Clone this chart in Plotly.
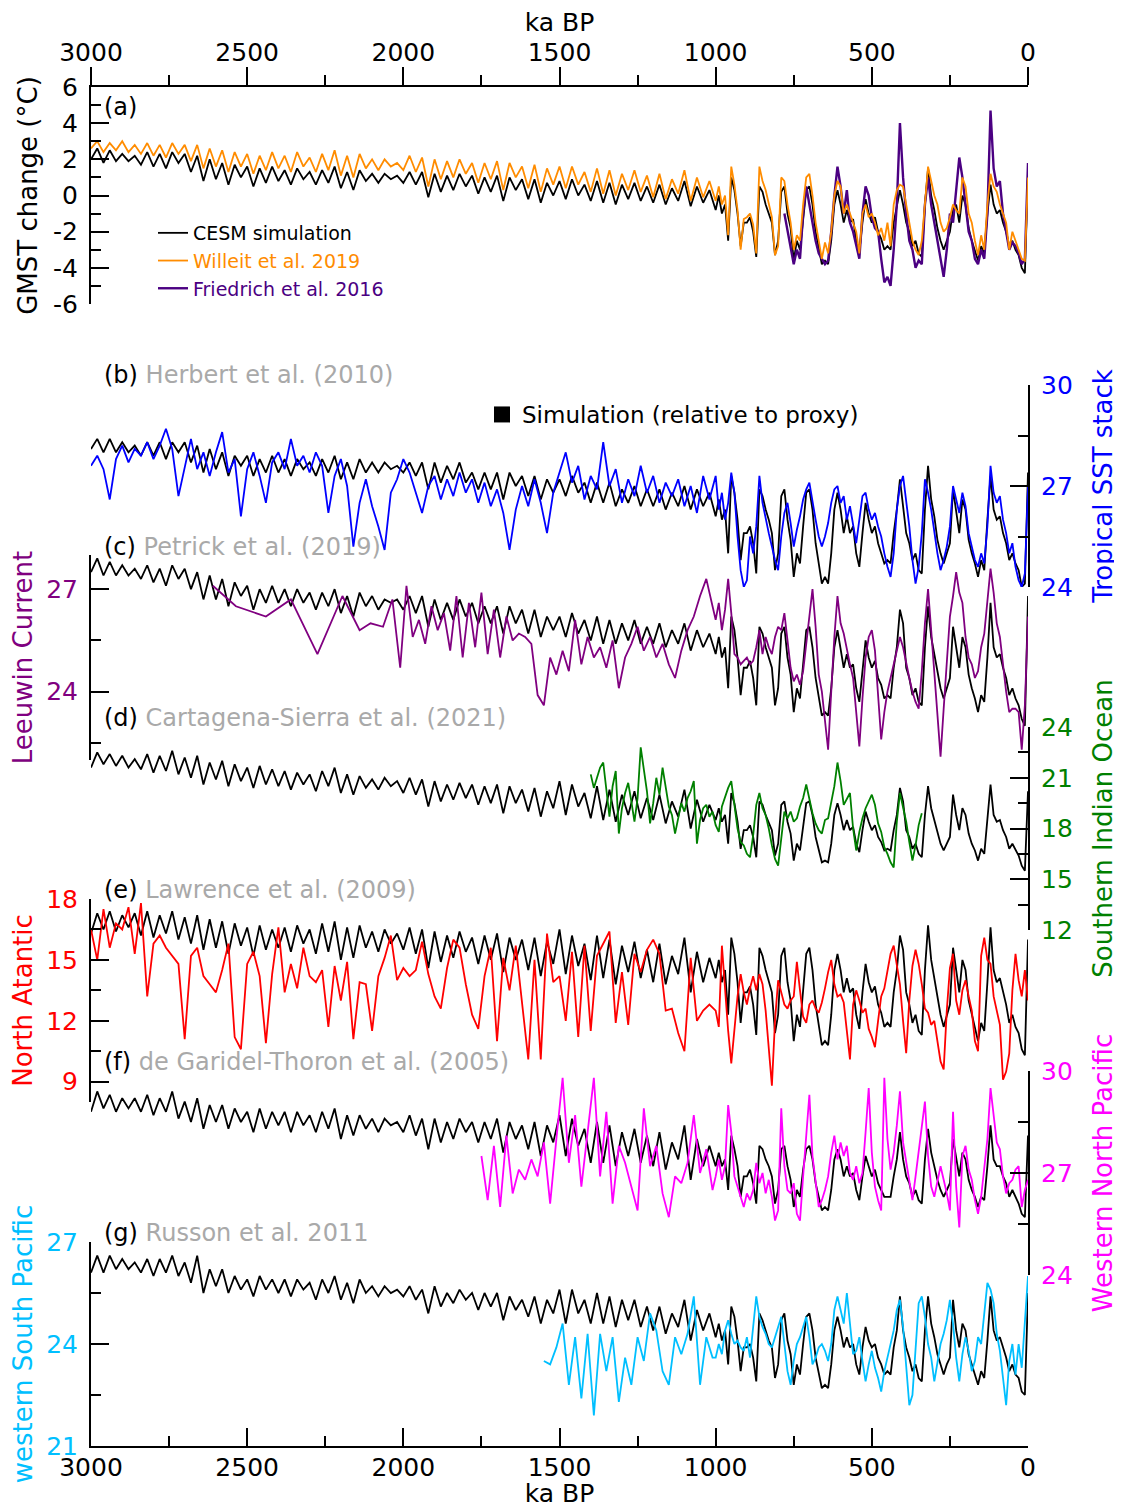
import plotly.graph_objects as go

FONT = "DejaVu Sans"

# ==========================
# Age grids (ka BP)
# ==========================
age_old = list(range(3000, 1000, -20))
age_new = list(range(1000, -1, -10))
age_full = age_old + age_new

# ==========================
# (a) GMST change
# ==========================
gmst_ticks = [-6, -4, -2, 0, 2, 4, 6]
gmst_ticktext = ["-6", "-4", "-2", "0", "2", "4", "6"]
gmst_cesm = [
    2.0, 2.6, 1.8, 2.5, 1.9, 2.3, 1.9, 2.2, 1.7, 2.4,
    1.6, 2.3, 1.5, 2.4, 1.8, 2.3, 1.3, 2.2, 0.8, 2.0,
    0.9, 1.8, 0.6, 1.7, 1.0, 1.6, 0.5, 1.5, 0.7, 1.6,
    0.8, 1.4, 0.6, 1.5, 0.9, 1.3, 0.6, 1.4, 0.7, 1.6,
    0.4, 1.3, 0.3, 1.4, 0.8, 1.2, 0.7, 1.2, 0.9, 1.1,
    0.7, 1.3, 0.6, 1.3, -0.1, 1.2, 0.2, 1.1, 0.3, 1.2,
    0.5, 1.1, 0.1, 1.0, 0.2, 1.1, -0.3, 1.0, 0.3, 0.9,
    -0.2, 0.9, -0.4, 0.7, 0.0, 0.8, -0.2, 0.9, 0.0, 0.6,
    -0.3, 0.8, -0.4, 0.7, -0.5, 0.6, -0.2, 0.7, -0.3, 0.5,
    -0.4, 0.6, -0.5, 0.4, -0.3, 0.8, -0.6, 0.5, -0.4, 0.3,
    -0.8, 0.0, -1.0, -0.5, -2.5, 1.0, 0.3, -1.0, -2.8, -1.5,
    -1.5, -1.2, -2.0, -3.4, 0.5, 0.2, -0.5, -1.0, -1.5, -3.3,
    -2.5, 0.2, 0.5, -1.0, -1.8, -3.6, -2.5, -3.0, -1.2, 0.3,
    0.5, -0.5, -2.0, -3.0, -3.8, -3.6, -3.8, -2.5, -0.5, 0.3,
    -0.5, -1.5, -0.8, -1.5, -1.3, -2.5, -3.1, -1.5, -0.2, -1.0,
    -1.5, -1.2, -2.0, -2.4, -3.0, -2.8, -3.0, -1.5, -0.5, 0.3,
    -0.5, -1.5, -2.0, -2.8, -2.5, -3.2, -3.4, -0.5, 1.5, 0.0,
    -0.8, -1.8, -2.5, -3.0, -2.5, -2.0, -0.8, -0.5, -1.5, 0.0,
    -0.5, -1.8, -2.5, -3.0, -3.6, -2.8, -3.2, -1.0, 0.6, -0.5,
    -1.0, -0.8, -1.5, -2.0, -2.8, -2.5, -3.0, -3.3, -4.0, -4.3, 1.2,
]
gmst_willeit = [
    2.6, 3.0, 2.4, 2.9, 2.5, 3.0, 2.4, 2.8, 2.3, 2.9,
    2.2, 2.8, 2.1, 2.9, 2.3, 2.8, 1.9, 2.8, 1.5, 2.6,
    1.6, 2.5, 1.3, 2.4, 1.6, 2.3, 1.2, 2.2, 1.4, 2.4,
    1.5, 2.2, 1.3, 2.4, 1.6, 2.1, 1.3, 2.3, 1.4, 2.5,
    1.1, 2.2, 1.0, 2.3, 1.5, 2.0, 1.4, 2.0, 1.6, 1.8,
    1.4, 2.2, 1.3, 2.1, 0.5, 2.0, 0.9, 1.9, 1.0, 2.0,
    1.2, 1.8, 0.7, 1.8, 0.9, 1.9, 0.3, 1.8, 1.0, 1.6,
    0.4, 1.7, 0.2, 1.5, 0.6, 1.6, 0.4, 1.6, 0.6, 1.3,
    0.2, 1.5, 0.1, 1.4, 0.0, 1.2, 0.3, 1.4, 0.2, 1.1,
    -0.1, 1.2, -0.2, 0.9, 0.1, 1.4, -0.3, 1.0, -0.1, 0.8,
    -0.3, 0.5, -0.5, 0.0, -2.2, 1.6, 0.6, -0.8, -3.0, -1.3,
    -1.2, -1.0, -1.6, -3.2, 1.6, 0.8, 0.3, -0.5, -1.2, -3.3,
    -2.8, 1.0, 0.8, -0.5, -1.5, -3.0, -2.2, -2.5, -0.5, 1.0,
    1.2, 0.0, -1.5, -2.5, -3.5, -2.6, -3.2, -2.0, 0.0, 0.8,
    0.5, -1.0, -0.5, -1.0, -1.5, -2.0, -3.2, -1.0, -0.5, -1.2,
    -1.0, -1.5, -2.2, -1.8, -2.5, -1.5, -2.8, -0.5, 0.3, 0.6,
    0.5, -0.5, -1.5, -2.5, -3.0, -3.3, -2.5, -0.3, 1.6, 0.8,
    0.0, -0.5, -1.5, -2.0, -1.8, -1.2, -0.5, -0.8, -1.0, 1.0,
    0.5, -1.0, -1.5, -2.5, -3.3, -2.2, -3.0, -0.5, 1.2, 0.5,
    0.2, -0.5, -1.0, -1.5, -3.0, -2.0, -2.5, -3.0, -3.5, -3.6, 1.0,
]
age_friedrich = list(range(780, -1, -10))
gmst_friedrich = [
    -1.0, -2.0, -3.0, -3.8, -3.0, -3.5, -1.0, 0.5, -0.5, -1.5,
    -2.5, -3.2, -3.5, -3.8, -3.6, -2.0, 0.0, 1.6, 0.5, -1.0,
    0.3, -1.5, -2.0, -2.8, -3.5, -1.0, 0.5, 0.0, -1.2, -1.8,
    -2.0, -3.5, -4.8, -4.5, -5.0, -3.0, -0.5, 4.0, 1.0, -1.0,
    -2.5, -3.0, -4.0, -3.6, -3.8, -0.5, 1.0, -0.5, -1.5, -2.5,
    -3.5, -4.5, -3.0, -1.0, -1.5, 0.5, 2.1, 1.0, -0.5, -2.0,
    -2.5, -3.5, -3.8, -3.0, -3.5, -1.0, 4.7, 1.5, 0.5, 0.8,
    -1.0, -2.0, -3.0, -2.6, -2.8, -3.2, -3.8, -3.5, 1.8,
]

# ==========================
# (b) Tropical SST stack
# ==========================
sst_b_cesm = [
    28.1, 28.4, 28.0, 28.4, 28.0, 28.3, 28.0, 28.2, 27.9, 28.3,
    27.9, 28.3, 27.8, 28.3, 28.0, 28.3, 27.7, 28.2, 27.4, 28.1,
    27.5, 28.0, 27.3, 27.9, 27.6, 27.9, 27.3, 27.8, 27.4, 27.9,
    27.4, 27.8, 27.3, 27.8, 27.5, 27.7, 27.3, 27.8, 27.4, 27.9,
    27.2, 27.7, 27.2, 27.8, 27.4, 27.7, 27.4, 27.7, 27.5, 27.6,
    27.4, 27.7, 27.3, 27.7, 26.9, 27.7, 27.1, 27.6, 27.2, 27.7,
    27.1, 27.4, 26.9, 27.4, 26.9, 27.4, 26.6, 27.4, 27.0, 27.3,
    26.7, 27.3, 26.6, 27.2, 26.8, 27.2, 26.7, 27.3, 26.8, 27.1,
    26.5, 27.1, 26.5, 27.1, 26.4, 26.9, 26.5, 27.0, 26.4, 26.9,
    26.4, 26.9, 26.3, 26.8, 26.4, 27.0, 26.3, 26.9, 26.4, 26.8,
    26.1, 26.6, 26.0, 26.3, 25.0, 27.3, 26.8, 26.0, 24.8, 25.6,
    25.6, 25.8, 25.3, 24.4, 26.9, 26.7, 26.3, 26.0, 25.6, 24.5,
    25.0, 26.7, 26.9, 26.0, 25.4, 24.3, 25.0, 24.7, 25.8, 26.8,
    26.9, 26.3, 25.3, 24.7, 24.1, 24.3, 24.1, 25.0, 26.3, 26.8,
    26.3, 25.6, 26.1, 25.6, 25.8, 25.0, 24.6, 25.6, 26.5, 26.0,
    25.6, 25.8, 25.3, 25.0, 24.7, 24.8, 24.7, 25.6, 26.3, 27.2,
    26.3, 25.6, 25.3, 24.8, 25.0, 24.5, 24.4, 26.3, 27.6, 26.6,
    26.1, 25.4, 25.0, 24.7, 25.0, 25.3, 26.9, 26.3, 25.6, 26.6,
    26.3, 25.4, 25.0, 24.7, 24.3, 24.8, 24.5, 26.0, 27.3, 26.3,
    26.0, 26.1, 25.6, 25.3, 24.8, 25.0, 24.7, 24.5, 24.0, 24.1, 27.4,
]
sst_herbert = [
    27.6, 27.9, 27.5, 26.6, 27.8, 28.2, 27.7, 28.1, 27.9, 28.3,
    27.8, 28.2, 28.7, 28.1, 26.7, 27.6, 28.4, 27.5, 28.0, 27.3,
    28.0, 28.6, 27.4, 27.8, 26.1, 27.5, 28.0, 27.3, 26.5, 27.7,
    28.0, 27.5, 28.4, 27.6, 27.9, 27.4, 28.0, 27.6, 26.2, 27.3,
    27.8, 27.0, 25.2, 26.5, 27.2, 26.4, 25.8, 25.1, 26.8, 27.2,
    27.8, 27.4, 26.8, 26.2, 27.0, 27.3, 26.6, 27.2, 26.7, 27.4,
    26.8, 27.2, 26.5, 27.1, 26.4, 26.9, 26.2, 25.1, 26.3, 27.0,
    26.4, 27.2, 26.5, 25.6, 26.8, 27.4, 28.0, 27.1, 27.6, 26.6,
    27.3, 26.9, 28.3, 27.0, 27.5, 26.5, 27.2, 26.7, 27.6, 26.8,
    27.3, 26.5, 27.1, 26.7, 27.2, 26.4, 27.0, 26.2, 27.3, 26.6,
    27.3, 26.3, 26.8, 26.0, 26.5, 27.4, 26.8, 25.5, 24.5, 24.0,
    24.2, 25.5, 25.0, 25.8, 27.3, 26.5, 26.0, 25.6, 25.2, 24.8,
    24.5, 25.5, 26.2, 26.5, 25.9, 25.2, 25.7, 26.1, 26.6, 26.9,
    27.1, 26.5, 26.0, 25.5, 25.2, 25.5, 25.9, 26.5, 26.9, 27.0,
    26.5, 26.7, 26.0, 26.4, 25.8, 25.3, 26.0, 26.7, 26.8, 26.3,
    26.0, 26.2, 25.8, 25.5, 25.0, 24.6, 24.3, 25.0, 26.3, 27.0,
    27.3, 26.5, 25.8, 24.8, 24.1, 24.6, 25.6, 27.2, 26.8, 26.3,
    25.6, 25.0, 24.5, 24.8, 25.2, 25.8, 27.0, 26.6, 26.2, 26.8,
    26.4, 25.6, 25.2, 24.8, 24.6, 25.0, 24.7, 25.8, 27.6, 26.8,
    26.5, 26.7, 26.0, 25.6, 25.0, 25.3, 24.6, 24.2, 24.0, 24.4, 27.0,
]

# ==========================
# (c) Leeuwin Current
# ==========================
sst_c_cesm = [
    27.5, 27.9, 27.4, 27.8, 27.4, 27.7, 27.4, 27.6, 27.3, 27.7,
    27.2, 27.6, 27.1, 27.7, 27.3, 27.6, 27.0, 27.5, 26.7, 27.4,
    26.7, 27.3, 26.5, 27.2, 26.8, 27.1, 26.4, 27.0, 26.6, 27.1,
    26.6, 27.0, 26.5, 27.0, 26.6, 26.9, 26.4, 26.9, 26.5, 27.0,
    26.3, 26.8, 26.2, 26.9, 26.5, 26.8, 26.4, 26.7, 26.6, 26.7,
    26.4, 26.8, 26.3, 26.8, 25.9, 26.7, 26.1, 26.6, 26.1, 26.7,
    26.2, 26.6, 26.0, 26.5, 26.0, 26.5, 25.7, 26.5, 26.0, 26.4,
    25.7, 26.4, 25.6, 26.2, 25.8, 26.2, 25.6, 26.3, 25.7, 26.1,
    25.5, 26.2, 25.4, 26.1, 25.4, 26.0, 25.5, 26.1, 25.4, 25.9,
    25.4, 26.0, 25.3, 25.8, 25.4, 26.0, 25.2, 25.8, 25.3, 25.7,
    25.1, 25.6, 25.0, 25.3, 24.1, 26.2, 25.8, 25.0, 23.9, 24.7,
    24.7, 24.9, 24.4, 23.6, 25.9, 25.7, 25.3, 25.0, 24.7, 23.6,
    24.1, 25.7, 25.9, 25.0, 24.5, 23.4, 24.1, 23.8, 24.9, 25.8,
    25.9, 25.3, 24.4, 23.8, 23.3, 23.4, 23.3, 24.1, 25.3, 25.8,
    25.3, 24.7, 25.1, 24.7, 24.8, 24.1, 23.7, 24.7, 25.5, 25.0,
    24.7, 24.9, 24.4, 24.2, 23.8, 23.9, 23.8, 24.7, 25.3, 26.4,
    26.0, 24.7, 24.4, 23.9, 24.1, 23.7, 23.6, 25.3, 26.5, 25.6,
    25.1, 24.5, 24.1, 23.8, 24.1, 24.4, 25.9, 25.3, 24.7, 25.6,
    25.3, 24.5, 24.1, 23.8, 23.4, 23.9, 23.7, 25.0, 26.6, 25.3,
    25.0, 25.1, 24.7, 24.4, 23.9, 24.1, 23.8, 23.6, 23.2, 23.0, 26.8,
]
age_petrick = ([2610, 2536, 2440, 2360, 2275, 2195, 2140, 2105, 2065, 2035, 2010, 1990, 1970]
               + list(range(1950, 1000, -20)) + age_new)
sst_petrick = [
    27.1, 26.5, 26.2, 26.7, 25.1, 26.8, 25.8, 26.0, 25.9, 26.7, 24.7, 27.1, 25.6,
    26.1, 25.4, 26.5, 25.8, 26.3, 25.2, 26.8, 25.0, 26.6, 25.3,
    26.9, 25.1, 26.4, 25.0, 26.2, 25.5, 25.7, 25.6, 25.4, 23.9,
    23.6, 25.0, 24.5, 25.2, 24.6, 26.1, 24.8, 25.6, 25.0, 25.3,
    24.7, 25.5, 24.1, 25.0, 25.4, 25.9, 25.2, 25.6, 25.0, 25.4,
    24.8, 24.4, 25.2, 25.8, 26.2, 26.8, 27.3, 26.5,
    26.1, 26.6, 25.8, 26.4, 27.3, 26.3, 25.1, 25.0, 24.8, 24.9,
    25.0, 24.8, 24.9, 25.3, 25.8, 25.1, 25.6, 25.3, 25.1, 25.6,
    25.9, 25.8, 26.3, 25.5, 24.7, 24.3, 24.5, 24.2, 24.6, 25.4,
    26.2, 27.0, 25.9, 24.5, 24.0, 23.2, 22.3, 24.0, 25.6, 26.8,
    26.0, 25.7, 25.2, 24.8, 24.4, 23.5, 22.4, 23.8, 25.0, 25.6,
    25.8, 25.2, 24.0, 22.6, 23.4, 24.0, 24.4, 24.8, 25.2, 25.6,
    25.3, 24.8, 24.4, 24.0, 23.7, 23.5, 24.6, 26.0, 27.0, 25.8,
    24.6, 23.2, 22.1, 23.5, 25.0, 26.2, 26.8, 27.5, 26.9, 26.6,
    25.6, 25.0, 24.8, 24.4, 24.6, 25.3, 25.7, 26.6, 27.6, 26.9,
    26.0, 25.6, 24.8, 24.0, 23.4, 23.5, 23.5, 23.4, 22.3, 23.6, 26.2,
]

# ==========================
# (d) Southern Indian Ocean
# ==========================
sst_d_cesm = [
    21.6, 22.5, 21.8, 22.4, 21.7, 22.3, 21.6, 22.1, 21.5, 22.4,
    21.3, 22.3, 21.4, 22.6, 21.2, 22.2, 21.0, 22.3, 20.6, 21.9,
    20.9, 22.0, 20.5, 21.8, 20.8, 21.6, 20.4, 21.7, 20.6, 21.5,
    20.5, 21.4, 20.3, 21.3, 20.6, 21.2, 20.2, 21.4, 20.5, 21.6,
    20.1, 21.2, 20.0, 21.1, 20.4, 20.9, 20.3, 21.0, 20.5, 20.8,
    20.1, 21.0, 20.0, 20.9, 19.3, 20.8, 19.6, 20.6, 19.7, 20.7,
    19.8, 20.6, 19.4, 20.5, 19.5, 20.6, 18.9, 20.5, 19.5, 20.3,
    19.0, 20.4, 18.7, 20.2, 19.2, 20.8, 18.8, 20.6, 19.3, 20.1,
    18.6, 20.5, 18.5, 20.3, 18.4, 20.0, 18.8, 20.2, 18.6, 19.8,
    18.5, 20.0, 18.3, 19.6, 18.7, 20.3, 18.0, 19.7, 18.4, 19.4,
    18.5, 19.2, 18.4, 18.8, 17.1, 20.1, 19.5, 18.4, 16.8, 17.9,
    17.9, 18.2, 17.5, 16.3, 19.6, 19.4, 18.8, 18.4, 17.9, 16.4,
    17.1, 19.4, 19.6, 18.4, 17.7, 16.1, 17.1, 16.7, 18.2, 19.5,
    19.6, 18.8, 17.5, 16.7, 16.0, 16.1, 16.0, 17.1, 18.8, 19.5,
    18.8, 17.9, 18.5, 17.9, 18.1, 17.1, 16.6, 17.9, 19.0, 18.4,
    17.9, 18.2, 17.5, 17.2, 16.7, 16.8, 16.7, 17.9, 18.8, 20.4,
    19.6, 17.9, 17.5, 16.8, 17.1, 16.5, 16.3, 18.8, 20.5, 19.2,
    18.5, 17.7, 17.1, 16.7, 17.1, 17.5, 20.0, 18.8, 17.9, 19.2,
    18.8, 17.7, 17.1, 16.7, 16.1, 16.8, 16.5, 18.4, 20.6, 18.8,
    18.4, 18.5, 17.9, 17.5, 16.8, 17.1, 16.7, 16.4, 15.8, 15.5, 20.2,
]
age_cartagena = list(range(1400, 339, -10))
sst_cartagena = [
    21.2, 20.4, 21.0, 21.6, 21.9, 20.2, 18.7, 20.5, 21.4, 17.7,
    19.2, 20.1, 20.7, 19.6, 18.4, 19.8, 22.8, 21.5, 20.2, 18.3,
    19.5, 21.0, 20.0, 21.6, 20.5, 19.3, 18.8, 17.7, 18.6, 19.5,
    19.0, 19.8, 20.2, 20.8, 17.1, 18.5, 19.2, 19.4, 18.7, 19.0,
    18.2, 17.8, 19.3, 19.9, 20.4, 20.8, 19.5, 18.0, 17.2, 17.0,
    16.5, 16.3, 17.6, 19.4, 20.1, 19.2, 18.8, 18.0, 17.0, 16.2,
    15.8, 17.5, 19.0, 18.6, 19.0, 18.4, 18.6, 19.3, 19.8, 20.6,
    19.7, 18.9, 18.3, 17.9, 17.7, 18.5, 18.6, 19.5, 20.5, 21.9,
    20.8, 19.4, 19.8, 20.1, 18.0, 16.7, 17.8, 18.6, 19.2, 19.6,
    20.0, 19.4, 18.3, 17.8, 16.9, 16.5, 16.0, 15.7, 18.4, 20.1,
    19.3, 18.4, 17.2, 16.1, 17.0, 18.2, 18.9,
]

# ==========================
# (e) North Atlantic
# ==========================
sst_e_cesm = [
    16.3, 17.3, 16.5, 17.4, 16.4, 17.2, 16.6, 17.3, 16.2, 17.4,
    16.1, 17.2, 16.3, 17.4, 16.0, 17.1, 15.8, 17.2, 15.5, 17.0,
    15.6, 16.9, 15.3, 16.8, 15.7, 16.6, 15.2, 16.7, 15.5, 16.5,
    15.6, 16.6, 15.4, 16.7, 15.8, 16.5, 15.3, 16.8, 15.4, 16.9,
    15.0, 16.6, 15.1, 16.7, 15.6, 16.4, 15.4, 16.5, 15.8, 16.3,
    15.5, 16.6, 15.3, 16.5, 14.6, 16.4, 14.9, 16.2, 15.1, 16.4,
    15.4, 16.1, 14.8, 16.2, 15.0, 16.3, 14.4, 16.1, 15.0, 16.0,
    14.5, 16.1, 14.2, 15.9, 14.8, 16.5, 14.3, 16.2, 14.7, 15.8,
    14.0, 16.2, 14.1, 16.0, 13.8, 15.7, 14.4, 15.9, 14.1, 15.5,
    13.9, 15.8, 13.8, 15.2, 14.3, 16.1, 13.4, 15.4, 13.9, 15.1,
    14.1, 15.0, 13.9, 14.5, 12.3, 16.1, 15.3, 13.9, 11.9, 13.4,
    13.4, 13.7, 12.8, 11.3, 15.6, 15.2, 14.5, 13.9, 13.4, 11.4,
    12.3, 15.2, 15.6, 13.9, 13.0, 11.0, 12.3, 11.7, 13.7, 15.3,
    15.6, 14.5, 12.8, 11.7, 10.8, 11.0, 10.8, 12.3, 14.5, 15.3,
    14.5, 13.4, 14.1, 13.4, 13.6, 12.3, 11.6, 13.4, 14.8, 13.9,
    13.4, 13.7, 12.8, 12.4, 11.7, 11.9, 11.7, 13.4, 14.5, 16.2,
    15.5, 13.4, 12.8, 11.9, 12.3, 11.5, 11.3, 14.5, 16.7, 15.0,
    14.1, 13.0, 12.3, 11.7, 12.3, 12.8, 15.6, 14.5, 13.4, 15.0,
    14.5, 13.0, 12.3, 11.7, 11.0, 11.9, 11.5, 13.9, 16.6, 14.5,
    13.9, 14.1, 13.4, 12.8, 11.9, 12.3, 11.7, 11.4, 10.6, 10.3, 16.0,
]
sst_lawrence = [
    16.5, 15.0, 17.5, 15.6, 16.8, 16.5, 17.6, 15.3, 17.8, 13.2,
    15.8, 16.2, 15.6, 15.2, 14.8, 11.1, 15.2, 15.6, 14.2, 13.8,
    13.4, 14.5, 15.8, 11.2, 10.6, 14.8, 15.4, 14.2, 10.9, 14.3,
    16.6, 13.4, 14.8, 13.6, 15.6, 14.2, 13.9, 14.5, 11.7, 14.7,
    13.0, 14.9, 11.1, 13.9, 13.8, 11.5, 14.2, 15.1, 16.2, 14.0,
    14.6, 14.2, 14.5, 15.9, 14.3, 13.2, 12.6, 14.6, 16.0, 15.6,
    13.8, 12.3, 11.6, 14.2, 15.6, 11.0, 15.1, 13.5, 15.7, 12.9,
    10.1, 15.0, 10.1, 16.3, 13.9, 14.2, 12.0, 15.4, 11.2, 15.7,
    11.5, 15.2, 15.8, 16.4, 11.9, 14.4, 11.8, 15.3, 14.4, 15.5,
    16.0, 15.3, 12.5, 12.6, 11.4, 10.5, 15.1, 12.0, 12.5, 12.8,
    12.5, 11.7, 15.7, 13.5, 11.5, 9.9, 11.5, 13.2, 14.3, 13.4,
    12.8, 13.6, 14.2, 13.5, 14.3, 13.8, 12.5, 10.5, 8.8, 12.0,
    14.0, 13.4, 12.8, 12.6, 13.0, 13.2, 14.9, 13.5, 12.2, 11.9,
    12.8, 13.0, 12.6, 12.4, 12.9, 13.6, 14.4, 15.0, 13.8, 13.2,
    13.3, 12.9, 11.5, 10.1, 12.8, 13.5, 13.0, 12.4, 12.6, 11.6,
    11.2, 10.7, 12.0, 13.2, 13.6, 14.5, 15.3, 15.7, 14.8, 13.8,
    12.0, 10.4, 13.0, 14.7, 15.5, 14.8, 13.8, 12.6, 12.4, 11.8,
    12.0, 11.0, 10.0, 9.6, 12.5, 14.6, 15.3, 13.0, 12.3, 13.5,
    14.0, 13.2, 12.5, 11.0, 10.5, 15.2, 16.1, 15.0, 14.8, 13.2,
    12.5, 11.8, 9.1, 9.5, 10.4, 13.5, 15.3, 14.0, 13.2, 14.5, 13.0,
]

# ==========================
# (f) Western North Pacific
# ==========================
sst_f_cesm = [
    28.8, 29.4, 28.9, 29.3, 28.8, 29.2, 28.9, 29.2, 28.8, 29.3,
    28.7, 29.2, 28.8, 29.4, 28.6, 29.1, 28.5, 29.2, 28.3, 29.0,
    28.5, 29.0, 28.3, 28.9, 28.5, 28.8, 28.2, 28.9, 28.3, 28.8,
    28.4, 28.8, 28.2, 28.8, 28.4, 28.7, 28.2, 28.8, 28.3, 28.9,
    28.0, 28.7, 28.1, 28.7, 28.3, 28.6, 28.2, 28.6, 28.4, 28.5,
    28.2, 28.7, 28.1, 28.6, 27.7, 28.6, 27.9, 28.5, 28.0, 28.6,
    28.2, 28.5, 27.9, 28.5, 28.0, 28.6, 27.6, 28.5, 28.0, 28.4,
    27.7, 28.5, 27.5, 28.4, 27.9, 28.7, 27.5, 28.6, 27.8, 28.3,
    27.3, 28.5, 27.3, 28.4, 27.2, 28.2, 27.5, 28.3, 27.3, 28.1,
    27.2, 28.2, 27.1, 27.9, 27.4, 28.4, 26.8, 28.0, 27.2, 27.8,
    27.2, 27.6, 27.2, 27.4, 26.5, 28.1, 27.7, 27.2, 26.3, 26.9,
    26.9, 27.1, 26.7, 26.1, 27.8, 27.7, 27.4, 27.2, 26.9, 26.1,
    26.5, 27.7, 27.8, 27.2, 26.8, 26.0, 26.5, 26.3, 27.1, 27.7,
    27.8, 27.4, 26.7, 26.3, 25.9, 26.0, 25.9, 26.5, 27.4, 27.7,
    27.4, 26.9, 27.2, 26.9, 27.0, 26.5, 26.2, 26.9, 27.5, 27.2,
    26.9, 27.1, 26.7, 26.5, 26.3, 26.3, 26.3, 26.9, 27.4, 28.2,
    27.4, 26.9, 26.7, 26.3, 26.5, 26.2, 26.1, 27.4, 28.3, 27.6,
    27.2, 26.8, 26.5, 26.3, 26.5, 26.7, 28.0, 27.4, 26.9, 27.6,
    27.4, 26.8, 26.5, 26.3, 26.0, 26.3, 26.2, 27.2, 28.4, 27.4,
    27.2, 27.2, 26.9, 26.7, 26.3, 26.5, 26.3, 26.1, 25.8, 25.7, 28.1,
]
age_garidel = list(range(1750, 1000, -20)) + age_new
sst_garidel = [
    27.5, 26.2, 27.8, 26.0, 28.1, 26.4, 27.1, 26.8, 27.4, 26.9,
    27.9, 26.1, 28.0, 29.8, 27.3, 28.7, 26.6, 28.2, 29.8, 26.9,
    28.8, 26.1, 27.8, 27.3, 26.6, 25.9, 28.9, 27.2, 27.8, 26.4,
    25.7, 26.9, 26.7, 27.3, 28.7, 27.0, 27.7, 26.5,
    26.9, 27.4, 26.8, 27.2, 29.0, 28.2, 26.9, 26.6, 26.3, 26.0,
    26.4, 26.2, 26.5, 27.3, 26.7, 27.0, 26.4, 26.8, 26.3, 25.6,
    25.9, 28.9, 27.2, 26.5, 26.4, 26.7, 25.8, 25.6, 26.9, 28.0,
    29.3, 27.5, 26.8, 26.0, 26.2, 26.5, 26.9, 27.6, 28.1, 27.4,
    27.9, 27.5, 27.8, 27.0, 26.8, 27.2, 26.7, 27.0, 28.2, 29.5,
    27.6, 26.6, 26.2, 25.9, 29.8, 28.0, 27.1, 27.6, 28.4, 29.4,
    27.9, 27.3, 26.7, 26.2, 26.9, 27.6, 28.3, 29.1, 27.5, 26.6,
    26.3, 26.8, 27.2, 26.8, 26.4, 25.9, 28.8, 26.6, 25.4, 27.5,
    27.8, 27.1, 26.8, 26.2, 25.8, 26.3, 27.2, 28.0, 29.5, 28.6,
    27.9, 27.7, 26.9, 26.4, 26.7, 26.8, 27.1, 27.2, 26.0, 26.5, 26.8,
]

# ==========================
# (g) western South Pacific
# ==========================
sst_g_cesm = [
    26.1, 26.6, 26.1, 26.6, 26.2, 26.5, 26.2, 26.4, 26.1, 26.5,
    26.0, 26.5, 26.1, 26.6, 26.0, 26.4, 25.8, 26.6, 25.5, 26.2,
    25.7, 26.2, 25.5, 26.0, 25.6, 25.9, 25.4, 26.0, 25.6, 25.9,
    25.5, 25.9, 25.4, 25.9, 25.6, 25.8, 25.3, 25.9, 25.5, 26.0,
    25.3, 25.8, 25.2, 25.9, 25.5, 25.7, 25.4, 25.7, 25.5, 25.6,
    25.4, 25.7, 25.3, 25.6, 24.9, 25.7, 25.1, 25.5, 25.2, 25.6,
    25.3, 25.5, 25.0, 25.5, 25.1, 25.5, 24.7, 25.4, 25.0, 25.3,
    24.8, 25.4, 24.6, 25.3, 24.9, 25.6, 24.6, 25.6, 24.9, 25.3,
    24.6, 25.5, 24.6, 25.4, 24.5, 25.3, 24.7, 25.3, 24.5, 25.1,
    24.4, 25.1, 24.3, 24.9, 24.5, 25.3, 24.1, 25.0, 24.4, 24.9,
    24.2, 24.6, 24.1, 24.4, 23.4, 25.1, 24.8, 24.1, 23.2, 23.9,
    23.9, 24.0, 23.6, 22.9, 24.9, 24.7, 24.4, 24.1, 23.9, 23.0,
    23.4, 24.7, 24.9, 24.1, 23.7, 22.8, 23.4, 23.1, 24.0, 24.8,
    24.9, 24.4, 23.6, 23.1, 22.7, 22.8, 22.7, 23.4, 24.4, 24.8,
    24.4, 23.9, 24.2, 23.9, 24.0, 23.4, 23.1, 23.9, 24.5, 24.1,
    23.9, 24.0, 23.6, 23.4, 23.1, 23.2, 23.1, 23.9, 24.4, 25.4,
    24.4, 23.9, 23.6, 23.2, 23.4, 23.0, 22.9, 24.4, 25.4, 24.6,
    24.2, 23.7, 23.4, 23.1, 23.4, 23.6, 25.3, 24.4, 23.9, 24.6,
    24.4, 23.7, 23.4, 23.1, 22.8, 23.2, 23.0, 24.1, 25.4, 24.4,
    24.1, 24.2, 23.9, 23.6, 23.2, 23.4, 23.1, 23.0, 22.6, 22.5, 25.5,
]
age_russon = list(range(1550, 1000, -20)) + age_new
sst_russon = [
    23.5, 23.4, 23.9, 24.6, 22.8, 24.2, 22.4, 24.3, 21.9, 24.3,
    23.2, 24.2, 22.3, 23.6, 22.8, 24.2, 23.5, 24.9, 24.4, 23.2,
    22.8, 24.2, 23.7, 24.3, 25.4, 22.8, 24.2, 23.6,
    23.6, 24.0, 23.7, 24.4, 24.7, 24.3, 24.0, 24.1, 23.9, 23.8,
    24.2, 23.6, 24.5, 25.4, 24.8, 24.5, 24.3, 24.0, 23.9, 24.2,
    24.5, 24.8, 24.0, 23.2, 22.8, 23.5, 24.0, 24.2, 24.5, 24.8,
    24.2, 23.4, 23.6, 23.9, 24.0, 23.8, 23.5, 24.0, 25.0, 25.4,
    25.0, 24.6, 25.5, 24.6, 23.7, 23.8, 24.2, 23.5, 22.9, 23.4,
    23.8, 23.3, 23.0, 22.6, 23.2, 23.6, 24.0, 24.4, 25.0, 25.3,
    24.5, 23.2, 22.2, 22.5, 23.8, 25.2, 25.4, 24.8, 24.0, 23.6,
    22.9, 23.5, 24.0, 24.3, 24.7, 25.3, 24.6, 23.6, 22.9, 23.7,
    24.2, 23.8, 23.2, 23.5, 24.2, 24.0, 25.0, 25.8, 25.6, 25.2,
    24.3, 23.8, 23.0, 22.2, 23.5, 24.0, 23.1, 24.0, 23.3, 24.8, 26.0,
]

# Colours
C_SIM = "black"
C_WILLEIT = "#ff8c00"
C_FRIEDRICH = "#4b0082"
C_B = "#0000ff"
C_C = "#800080"
C_D = "#008000"
C_E = "#ff0000"
C_F = "#ff00ff"
C_G = "#00bfff"
C_CITE = "#a9a9a9"


# Page pixel row -> paper fraction (plot area runs from y=87 to y=1446 px)
def py(p):
    return (1446 - p) / 1359


# Page pixel column -> paper fraction (plot area runs from x=91 to x=1028 px)
def px(p):
    return (p - 91) / 937


def y_axis(top, bottom, rng, side, color, title, dtick=3, minor=1.5, anchor="x"):
    return dict(
        domain=[py(bottom), py(top)], range=rng, side=side, anchor=anchor,
        automargin=False,
        showline=True, linecolor="black", linewidth=2,
        ticks="inside", ticklen=18, tickwidth=2, tickcolor="black",
        tick0=0, dtick=dtick,
        minor=dict(ticks="inside", ticklen=10, tickwidth=2, tickcolor="black",
                   tick0=0, dtick=minor, showgrid=False),
        tickfont=dict(size=25, color=color, family=FONT),
        ticklabelstandoff=6,
        title=dict(text=title, font=dict(size=26, color=color, family=FONT),
                   standoff=8 if side == "left" else 22),
        showgrid=False, zeroline=False,
    )


def x_axis(side, anchor, ticks, label_shift, title_gap):
    return dict(
        domain=[0, 1], range=[3000, 0], side=side, anchor=anchor,
        automargin=False,
        showline=True, linecolor="black", linewidth=2,
        ticks=ticks, ticklen=18, tickwidth=2, tickcolor="black",
        tick0=0, dtick=500,
        minor=dict(ticks=ticks, ticklen=10, tickwidth=2, tickcolor="black",
                   tick0=0, dtick=250, showgrid=False),
        tickfont=dict(size=25, color="black", family=FONT),
        ticklabelstandoff=label_shift,
        title=dict(text="ka BP", font=dict(size=25, color="black", family=FONT), standoff=title_gap),
        showgrid=False, zeroline=False,
    )


fig = go.Figure()


def add_line(x, y, color, yaxis, xaxis="x", width=1.8, name=None, legend=False, rank=None):
    fig.add_trace(go.Scatter(
        x=x, y=y, mode="lines", xaxis=xaxis, yaxis=yaxis,
        line=dict(color=color, width=width),
        name=name, showlegend=legend, legendrank=rank if rank else 1000,
        hoverinfo="skip",
    ))


# Panel (a)
add_line(age_full, gmst_cesm, C_SIM, "y", "x2", 1.8, "CESM simulation", True, 1)
add_line(age_friedrich, gmst_friedrich, C_FRIEDRICH, "y", "x2", 2.4,
         f"<span style='color:{C_FRIEDRICH}'>Friedrich et al. 2016</span>", True, 3)
add_line(age_full, gmst_willeit, C_WILLEIT, "y", "x2", 1.8,
         f"<span style='color:{C_WILLEIT}'>Willeit et al. 2019</span>", True, 2)

# Panels (b)-(g): simulation first, proxy on top
add_line(age_full, sst_b_cesm, C_SIM, "y2")
add_line(age_full, sst_herbert, C_B, "y2")
add_line(age_full, sst_c_cesm, C_SIM, "y3")
add_line(age_petrick, sst_petrick, C_C, "y3")
add_line(age_full, sst_d_cesm, C_SIM, "y4")
add_line(age_cartagena, sst_cartagena, C_D, "y4")
add_line(age_full, sst_e_cesm, C_SIM, "y5")
add_line(age_full, sst_lawrence, C_E, "y5")
add_line(age_full, sst_f_cesm, C_SIM, "y6")
add_line(age_garidel, sst_garidel, C_F, "y6")
add_line(age_full, sst_g_cesm, C_SIM, "y7")
add_line(age_russon, sst_russon, C_G, "y7")

# Legend entry for the simulation square
fig.add_trace(go.Scatter(
    x=[None], y=[None], mode="markers", xaxis="x", yaxis="y2",
    marker=dict(symbol="square", size=20, color="black"),
    name="Simulation (relative to proxy)", legend="legend2", showlegend=True,
))

panel_labels = [
    ("(a)", "", 107),
    ("(b)", "Herbert et al. (2010)", 375),
    ("(c)", "Petrick et al. (2019)", 547),
    ("(d)", "Cartagena-Sierra et al. (2021)", 718),
    ("(e)", "Lawrence et al. (2009)", 890),
    ("(f)", "de Garidel-Thoron et al. (2005)", 1062),
    ("(g)", "Russon et al. 2011", 1233),
]
annotations = []
for tag, cite, ypix in panel_labels:
    text = tag if not cite else f"{tag} <span style='color:{C_CITE}'>{cite}</span>"
    annotations.append(dict(
        text=text, xref="paper", yref="paper", x=px(102), y=py(ypix),
        xanchor="left", yanchor="middle", showarrow=False,
        font=dict(size=24, color="black", family=FONT),
    ))

panel_a_axis = y_axis(87, 304, [-6, 6], "left", "black", "GMST change (°C)", 2, 1, "x2")
panel_a_axis.update(tickmode="array", tickvals=gmst_ticks, ticktext=gmst_ticktext)

# The page body keeps an 8 px margin, so the figure is 8 px smaller each way
fig.update_layout(
    template="none",
    width=1114, height=1500,
    margin=dict(l=83, r=94, t=79, b=62),
    paper_bgcolor="white", plot_bgcolor="rgba(0,0,0,0)",
    font=dict(family=FONT, color="black"),
    xaxis=x_axis("bottom", "y7", "inside", -2, 2),
    xaxis2=x_axis("top", "y", "outside", -4, 0),
    yaxis=panel_a_axis,
    yaxis2=y_axis(385, 587, [24, 30], "right", C_B, "Tropical SST stack"),
    yaxis3=y_axis(555, 760, [22, 28], "left", C_C, "Leeuwin Current"),
    yaxis4=y_axis(727, 930, [12, 24], "right", C_D, "Southern Indian Ocean"),
    yaxis5=y_axis(899, 1102, [8, 18], "left", C_E, "North Atantic"),
    yaxis6=y_axis(1071, 1275, [24, 30], "right", C_F, "Western North Pacific"),
    yaxis7=y_axis(1242, 1446, [21, 27], "left", C_G, "western South Pacific"),
    legend=dict(x=px(153), y=py(214), xanchor="left", yanchor="top",
                font=dict(size=19, family=FONT, color="black"),
                bgcolor="rgba(0,0,0,0)", tracegroupgap=0, itemwidth=30),
    legend2=dict(x=px(482), y=py(393), xanchor="left", yanchor="top",
                 font=dict(size=23, family=FONT, color="black"),
                 bgcolor="rgba(0,0,0,0)"),
    annotations=annotations,
    showlegend=True,
)

fig.write_html("out.html")
